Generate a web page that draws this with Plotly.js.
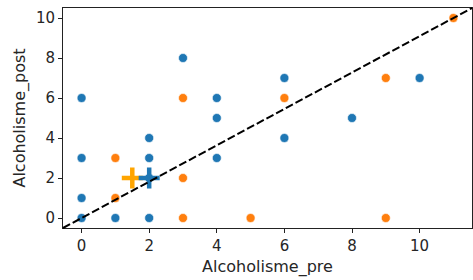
<!DOCTYPE html>
<html><head><meta charset="utf-8">
<script src="https://cdn.plot.ly/plotly-3.0.1.min.js"></script>
<style>html,body{margin:0;padding:0;background:#fff}</style>
</head><body>
<div id="chart" style="width:473px;height:280px"></div>
<script>
const blueX = [0, 0, 0, 0, 1, 2, 2, 2, 2, 3, 4, 4, 4, 6, 6, 8, 10];
const blueY = [0, 1, 3, 6, 0, 0, 2, 3, 4, 8, 6, 5, 3, 7, 4, 5, 7];
const orangeX = [1, 1, 3, 3, 3, 5, 6, 9, 9, 11];
const orangeY = [3, 1, 6, 2, 0, 0, 6, 7, 0, 10];
const centerOrangeX = [1.5], centerOrangeY = [2];
const centerBlueX = [2], centerBlueY = [2];
const xTicks = [0, 2, 4, 6, 8, 10];
const yTicks = [0, 2, 4, 6, 8, 10];

const dotStyle = (c) => ({color: c, size: 9, line: {color: '#ffffff', width: 0.6}});
const traces = [
  {x: blueX, y: blueY, mode: 'markers', type: 'scatter', marker: dotStyle('#1f77b4'), hoverinfo: 'skip'},
  {x: orangeX, y: orangeY, mode: 'markers', type: 'scatter', marker: dotStyle('#ff7f0e'), hoverinfo: 'skip'},
  {x: centerOrangeX, y: centerOrangeY, mode: 'markers', type: 'scatter',
   marker: {symbol: 'cross-thin', size: 15, line: {color: '#ffa500', width: 4.5}}},
  {x: centerBlueX, y: centerBlueY, mode: 'markers', type: 'scatter',
   marker: {symbol: 'cross-thin', size: 15, line: {color: '#1f77b4', width: 4.5}}}
];
const axisCommon = {
  showgrid: false, zeroline: false, showline: true, mirror: true,
  linecolor: '#222', linewidth: 1, ticks: 'outside', ticklen: 4, tickwidth: 1, tickcolor: '#222',
  tickfont: {family: 'DejaVu Sans', size: 15, color: '#262626'}
};
const titleFont = {family: 'DejaVu Sans', size: 16, color: '#262626'};
const layout = {
  width: 473, height: 280,
  margin: {l: 63, r: 1, t: 8, b: 52},
  paper_bgcolor: '#fff', plot_bgcolor: '#fff',
  showlegend: false,
  font: {family: 'DejaVu Sans', size: 15, color: '#262626'},
  xaxis: Object.assign({}, axisCommon, {range: [-0.55, 11.55], tickvals: xTicks,
    title: {text: 'Alcoholisme_pre', font: titleFont, standoff: 6}}),
  yaxis: Object.assign({}, axisCommon, {range: [-0.5, 10.5], tickvals: yTicks,
    title: {text: 'Alcoholisme_post', font: titleFont, standoff: 6}}),
  shapes: [{type: 'line', xref: 'paper', yref: 'paper', x0: 0, y0: 0, x1: 1, y1: 1,
    line: {color: '#000', width: 2, dash: '8px,3px'}}]
};
Plotly.newPlot('chart', traces, layout, {displayModeBar: false, staticPlot: true});
</script>
</body></html>
